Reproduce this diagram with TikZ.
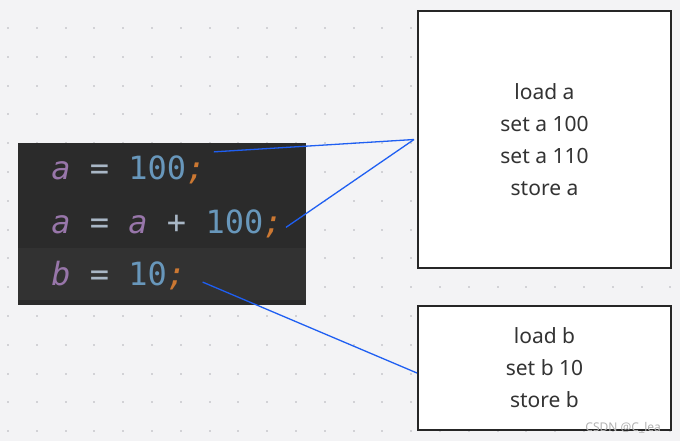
\documentclass[tikz,border=0pt]{standalone}
\usepackage{fontspec}
\setmainfont{Noto Sans}
\newfontfamily\codefont{DejaVu Sans Mono}
\definecolor{paper}{HTML}{F3F3F5}
\definecolor{dotgray}{HTML}{D2D2D6}
\definecolor{editorbg}{HTML}{2B2B2B}
\definecolor{curline}{HTML}{323232}
\definecolor{cvar}{HTML}{9876AA}
\definecolor{cop}{HTML}{A9B7C6}
\definecolor{cnum}{HTML}{6897BB}
\definecolor{csemi}{HTML}{CC7832}
\definecolor{wire}{HTML}{1F5FF2}
\newcommand{\cv}[1]{{\color{cvar}\itshape #1}}
\newcommand{\cn}[1]{{\color{cnum}#1}}
\newcommand{\cs}{{\color{csemi}\itshape ;}}
\tikzstyle{codeline}=[anchor=base west,inner sep=0pt,text=cop,font=\codefont\fontsize{16}{16}\selectfont]
\tikzstyle{opsbox}=[draw=black!85,line width=1pt,fill=white,minimum width=126.5pt,align=center,font=\fontsize{10.5}{16}\selectfont,text=black!80]
\tikzstyle{link}=[draw=wire,line width=0.65pt]

\begin{document}
\begin{tikzpicture}[x=0.5pt,y=-0.5pt]
\fill[paper] (0,0) rectangle (680,441);
\useasboundingbox (0,0) rectangle (680,441);
\foreach \i in {0,...,23}
  \foreach \j in {0,...,14}
    \fill[dotgray] (7+\i*28.8,27+\j*28.8) rectangle +(2,2);
% editor panel
\fill[editorbg] (18,143) rectangle (306,305);
\fill[curline] (18,248) rectangle (306,300);
\node[codeline] (la) at (51,179) {\cv{a} = \cn{100}\cs};
\node[codeline] (lsum) at (51,233) {\cv{a} = \cv{a} + \cn{100}\cs};
\node[codeline] (lb) at (51,285) {\cv{b} = \cn{10}\cs};
% bytecode boxes
\node[opsbox,minimum height=128.5pt] (opa) at (544.5,139.5) {load a\\set a 100\\set a 110\\store a};
\node[opsbox,minimum height=62pt] (opb) at (544.5,368) {load b\\set b 10\\store b};
\draw[link] ([shift={(8,-3)}]la.north east) -- ([shift={(-3,0)}]opa.west);
\draw[link] ([shift={(3,4)}]lsum.east) -- ([shift={(-3,0)}]opa.west);
\draw[link] ([shift={(16,7)}]lb.east) -- ([shift={(0,5)}]opb.west);
\node[text=black!30,font=\fontsize{6}{6}\selectfont,anchor=east] (mark) at (668,428) {CSDN @C\_lea};
\end{tikzpicture}
\end{document}
